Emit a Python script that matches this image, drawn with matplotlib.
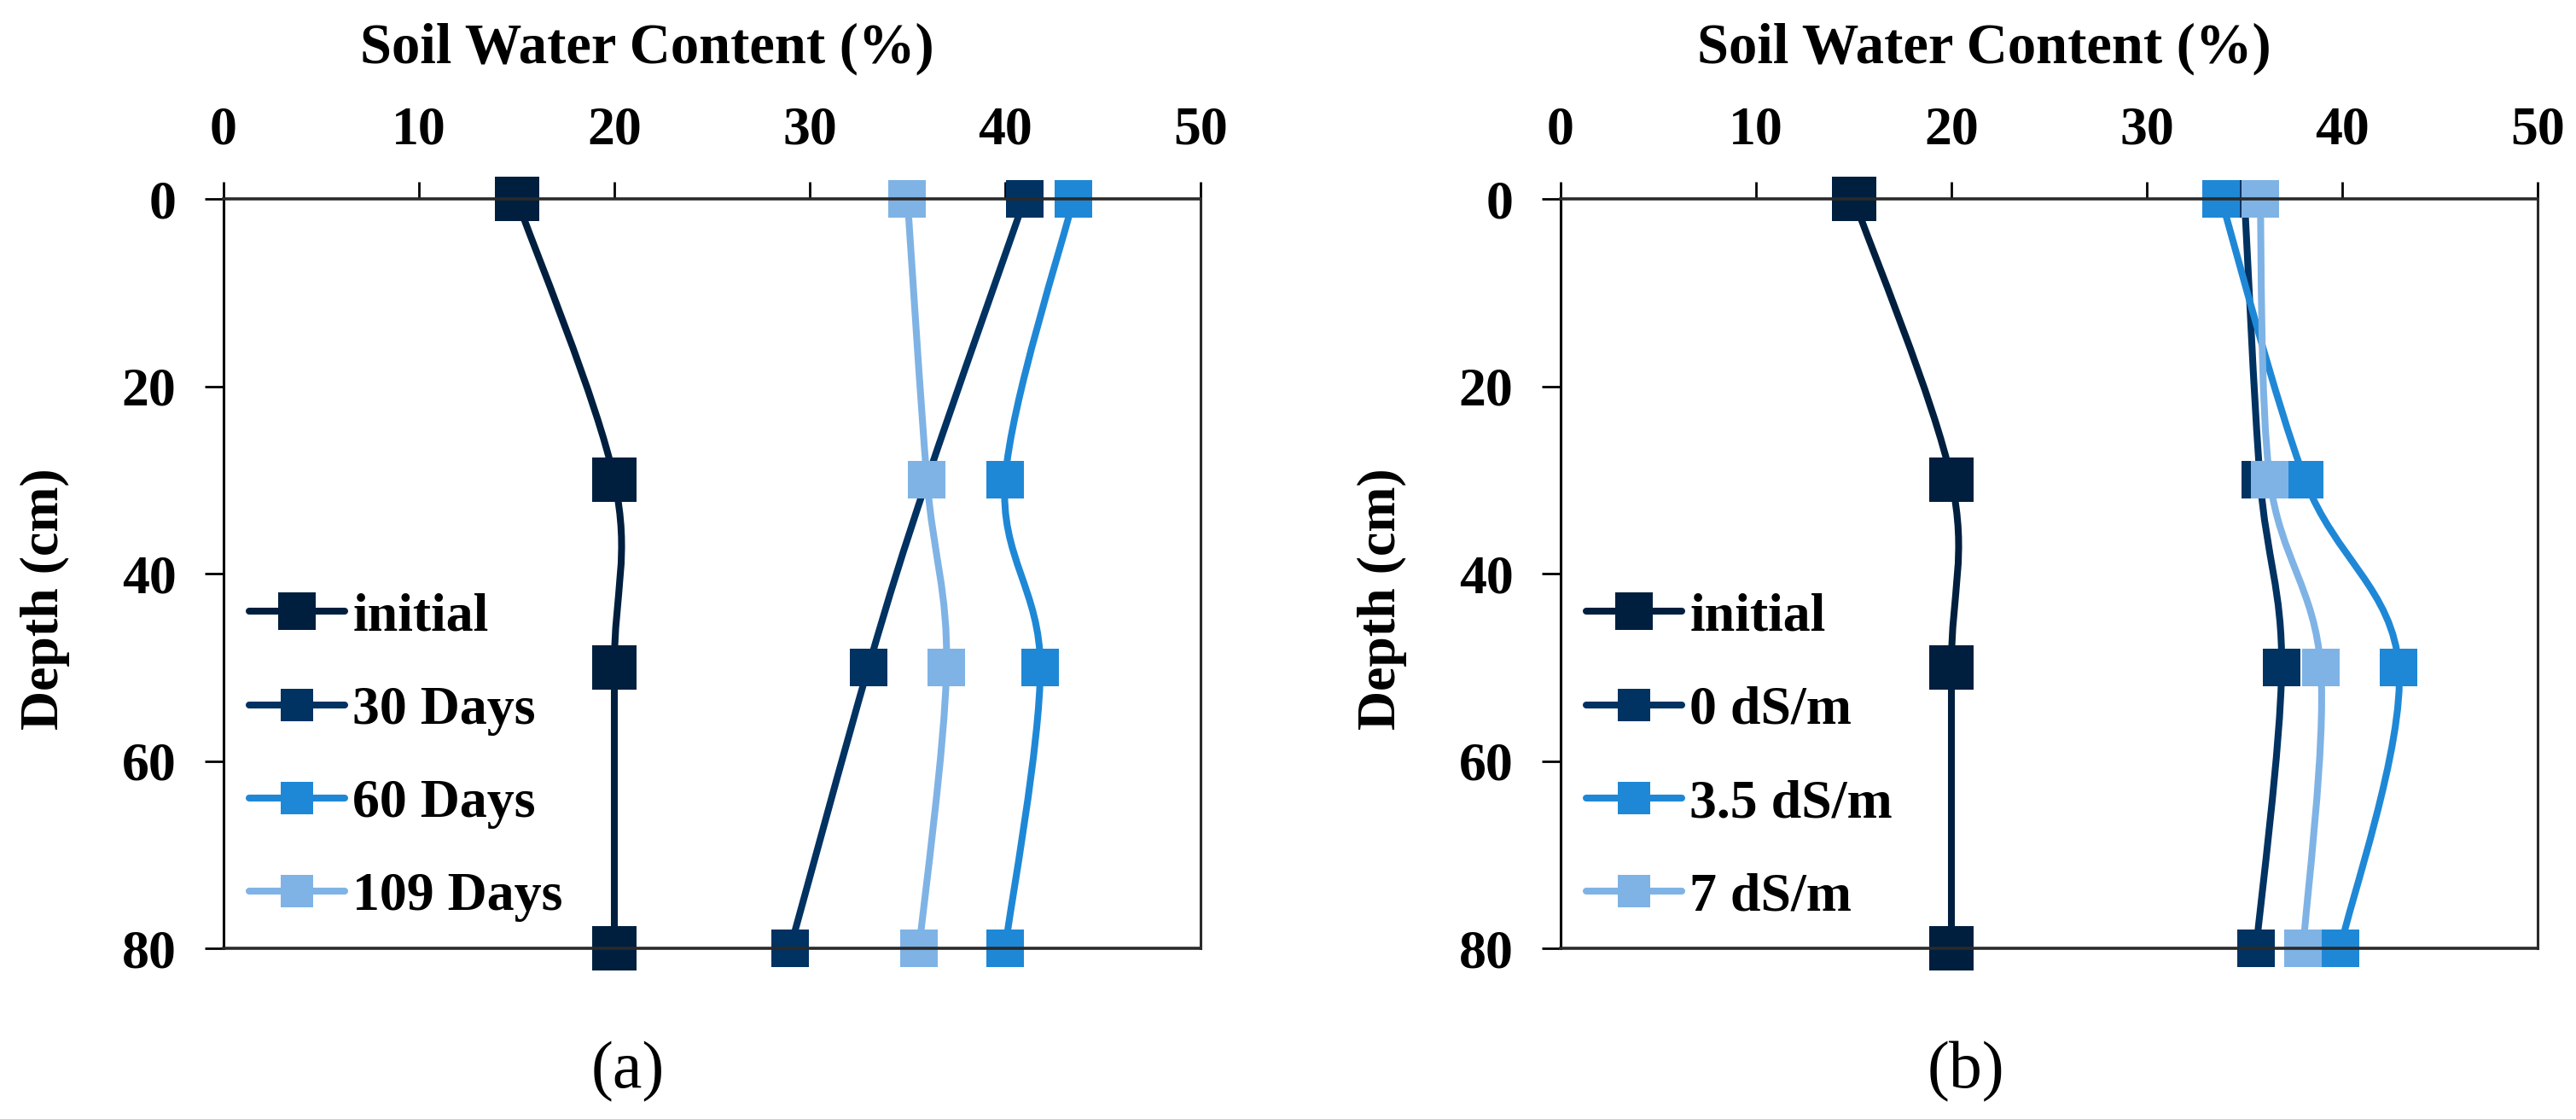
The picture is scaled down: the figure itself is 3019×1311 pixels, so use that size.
import numpy as np
import matplotlib.pyplot as plt
from matplotlib.path import Path
from matplotlib.patches import PathPatch
from matplotlib.lines import Line2D

plt.rcParams['font.family'] = ['Liberation Serif', 'DejaVu Serif']

# depths (cm) and soil water content (%)
depth = [0, 30, 50, 80]

labels_a = ['initial', '30 Days', '60 Days', '109 Days']
initial = [15.0, 20.0, 20.0, 20.0]
days_30 = [41.0, 36.0, 33.0, 29.0]
days_60 = [43.5, 40.0, 41.8, 40.0]
days_109 = [35.0, 36.0, 37.0, 35.6]

labels_b = ['initial', '0 dS/m', '3.5 dS/m', '7 dS/m']
ec_0 = [35.0, 35.8, 36.9, 35.6]
ec_35 = [33.8, 38.1, 42.9, 39.9]
ec_7 = [35.8, 36.3, 38.9, 38.0]

colors = ['#001f3f', '#003262', '#1f88d6', '#7fb3e5']
msizes = [37, 32, 32, 32]

W, H = 3019, 1311


def smooth_path(xs, ys):
    # excel-like smoothed line: cubic bezier with catmull-rom control points
    p = np.column_stack([xs, ys]).astype(float)
    n = len(p)
    verts = [p[0]]
    codes = [Path.MOVETO]
    for i in range(n - 1):
        p0 = p[i - 1] if i > 0 else p[i]
        p3 = p[i + 2] if i + 2 < n else p[i + 1]
        c1 = p[i] + (p[i + 1] - p0) / 6.0
        c2 = p[i + 1] - (p3 - p[i]) / 6.0
        verts += [c1, c2, p[i + 1]]
        codes += [Path.CURVE4] * 3
    return Path(verts, codes)


def panel(left, series, labels, title_x, ylab_x, tag, tag_x):
    ax = fig.add_axes([left / W, 1 - 1111 / H, 1145 / W, 878 / H])
    for vals, c, ms in zip(series, colors, msizes):
        ax.add_patch(PathPatch(smooth_path(vals, depth), facecolor='none',
                               edgecolor=c, lw=5.8, clip_on=False,
                               capstyle='round'))
        ax.plot(vals, depth, ls='none', marker='s', ms=ms, color=c,
                mew=0, clip_on=False)
    ax.set_xlim(0, 50)
    ax.set_ylim(80, 0)
    ax.set_xticks([0, 10, 20, 30, 40, 50])
    ax.set_yticks([0, 20, 40, 60, 80])
    ax.xaxis.tick_top()
    ax.tick_params(axis='x', direction='out', length=14.5, width=2,
                   pad=22, labelsize=46)
    ax.tick_params(axis='y', direction='out', length=16, width=2,
                   pad=24, labelsize=46)
    for t in ax.get_xticklabels() + ax.get_yticklabels():
        t.set_fontweight('bold')
    for s in ['top', 'bottom']:
        ax.spines[s].set_linewidth(2.6)
        ax.spines[s].set_color('#2a2a2a')
    ax.spines['left'].set_linewidth(2.2)
    ax.spines['right'].set_linewidth(2.2)
    ax.spines['right'].set_color('#2a2a2a')

    handles = [Line2D([], [], color=c, lw=5.8, marker='s', ms=ms * 0.85,
                      mew=0, solid_capstyle='round')
               for c, ms in zip(colors, msizes)]
    fig.legend(handles, labels, loc='upper left',
               bbox_to_anchor=((left + 30) / W, 1 - 694 / H),
               frameon=False, borderpad=0, borderaxespad=0,
               handlelength=1.75, handletextpad=0.15, labelspacing=0.79,
               prop={'size': 46, 'weight': 'bold'})

    fig.text(title_x / W, 1 - 74 / H, 'Soil Water Content (%)',
             ha='center', va='baseline', fontsize=48, fontweight='bold')
    fig.text(ylab_x / W, 1 - 702 / H, 'Depth (cm)', rotation=90,
             ha='center', va='center', fontsize=46, fontweight='bold')
    fig.text(tag_x / W, 1 - 1256 / H, tag, ha='center', va='center',
             fontsize=56)
    return ax


fig = plt.figure(figsize=(W / 100, H / 100), dpi=100)

panel(262, [initial, days_30, days_60, days_109], labels_a, 758, 53, '(a)', 736)
panel(1829, [initial, ec_0, ec_35, ec_7], labels_b, 2325, 1620, '(b)', 2304)

fig.savefig('out.png', dpi=100)
